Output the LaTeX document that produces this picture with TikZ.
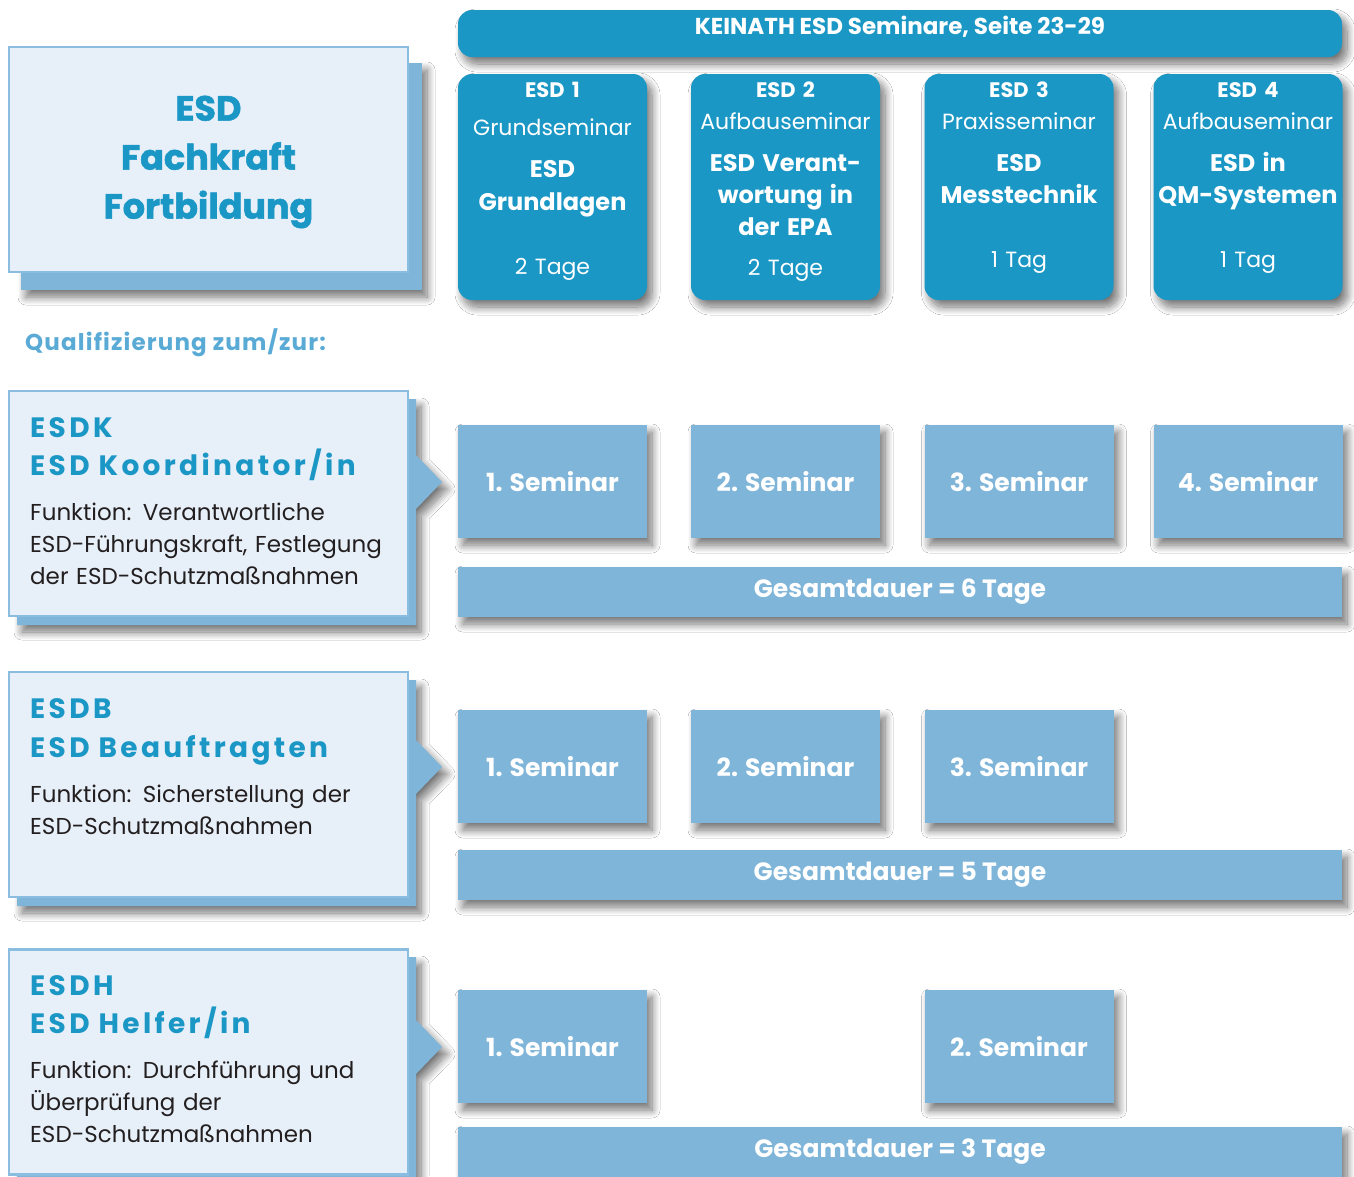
\documentclass[tikz,border=0pt]{standalone}
\usepackage{fontspec}
\setmainfont{Poppins}
\newfontfamily\rollenfamilie{Poppins}[LetterSpace=12]
\usetikzlibrary{shadows.blur}
\definecolor{esddunkel}{HTML}{1B97C6}
\definecolor{esdmittel}{HTML}{7FB5D9}
\definecolor{esdhell}{HTML}{E7EFF8}
\definecolor{esdrand}{HTML}{8ABDE0}
\definecolor{esdquali}{HTML}{5AAAD6}
\definecolor{esdschrift}{HTML}{231F20}
\newcommand{\rollenkopf}{\color{esddunkel}\rollenfamilie\fontsize{28}{32}\selectfont\bfseries}
\newcommand{\modulfett}{\fontsize{24}{32}\selectfont\bfseries}

\begin{document}
\begin{tikzpicture}[x=1pt,y=-1pt,
    schatten/.style={blur shadow={shadow xshift=5pt,shadow yshift=-7pt,shadow opacity=55,shadow blur steps=14,shadow blur radius=8pt}},
    kopf/.style={fill=esddunkel,rounded corners=14pt,minimum width=884pt,minimum height=47pt,schatten},
    modul/.style={fill=esddunkel,rounded corners=14pt,minimum width=189pt,minimum height=226pt,schatten},
    modultext/.style={text=white,align=center,anchor=north,inner sep=0pt,text width=189pt,font=\fontsize{22}{32}\selectfont},
    kurs/.style={fill=esdmittel,minimum width=189pt,minimum height=113pt,text=white,font=\fontsize{25}{29}\selectfont\bfseries,schatten},
    dauer/.style={fill=esdmittel,minimum width=884pt,minimum height=50pt,text=white,font=\fontsize{25}{29}\selectfont\bfseries,schatten},
    rolle/.style={fill=esdhell,draw=esdrand,line width=2.5pt,minimum width=399pt,minimum height=225pt},
    rollentext/.style={text=esdschrift,align=left,anchor=north west,inner sep=0pt,text width=410pt,font=\fontsize{23}{32}\selectfont}
  ]
  \useasboundingbox[fill=white] (0,0) rectangle (1354,1176);

  % Titelkasten
  \fill[esdmittel,schatten] (21,63) rectangle (422,290);
  \node[rolle] (fachkraft) at (208.5,159.5) {};
  \node[text=esddunkel,align=center,anchor=north,inner sep=0pt,font=\fontsize{35}{49}\selectfont\bfseries\addfontfeature{FakeBold=1.5}] (fachkrafttext) at (208.5,95.5)
    {ESD\\Fachkraft\\Fortbildung};

  % Seminare oben
  \node[kopf] (keinath) at (900,33.5) {};
  \node[text=white,font=\fontsize{23}{27}\selectfont\bfseries,inner sep=0pt] (keinathtext) at (900,27) {KEINATH ESD Seminare, Seite 23-29};
  \node[modul] (esd1) at (552.5,187) {};
  \node[modul] (esd2) at (785.5,187) {};
  \node[modul] (esd3) at (1019,187) {};
  \node[modul] (esd4) at (1248,187) {};
  \node[modultext] (esd1text) at (esd1.north |- 0,82)
    {{\fontsize{21}{32}\selectfont\bfseries ESD 1}\\[6pt]Grundseminar\\[10pt]
     {\modulfett ESD}\\[1pt]{\modulfett Grundlagen}\\[32pt]2 Tage};
  \node[modultext] (esd2text) at (esd2.north |- 0,82)
    {{\fontsize{21}{32}\selectfont\bfseries ESD 2}\\Aufbauseminar\\[10pt]
     {\modulfett ESD Verant-}\\{\modulfett wortung in}\\{\modulfett der EPA}\\[8pt]2 Tage};
  \node[modultext] (esd3text) at (esd3.north |- 0,82)
    {{\fontsize{21}{32}\selectfont\bfseries ESD 3}\\Praxisseminar\\[10pt]
     {\modulfett ESD}\\{\modulfett Messtechnik}\\[32pt]1 Tag};
  \node[modultext] (esd4text) at (esd4.north |- 0,82)
    {{\fontsize{21}{32}\selectfont\bfseries ESD 4}\\Aufbauseminar\\[10pt]
     {\modulfett ESD in}\\{\modulfett QM-Systemen}\\[32pt]1 Tag};

  \node[anchor=base west,inner sep=0pt,text=esdquali,font=\fontsize{23}{27}\selectfont\bfseries\addfontfeature{LetterSpace=5}] (quali) at (25,350) {Qualifizierung zum/zur:};

  % ESDK
  \fill[esdmittel,schatten] (17,399) -- (416,399) -- (416,455) -- (442,482) -- (416,509) -- (416,625) -- (17,625) -- cycle;
  \node[rolle] (esdk) at (208.5,503.5) {};
  \node[rollentext] (esdktext) at (30,417)
    {{\rollenkopf ESDK}\\[6pt]{\rollenkopf ESD\hspace{9pt}Koordinator/in}\\[13pt]
     Funktion: Verantwortliche\\ESD-Führungskraft, Festlegung\\der ESD-Schutzmaßnahmen};
  \node[kurs] (k1) at (552.5,481.5) {1. Seminar};
  \node[kurs] (k2) at (785.5,481.5) {2. Seminar};
  \node[kurs] (k3) at (1019,481.5) {3. Seminar};
  \node[kurs] (k4) at (1248,481.5) {4. Seminar};
  \node[dauer] (kdauer) at (900,592) {Gesamtdauer = 6 Tage};

  % ESDB
  \fill[esdmittel,schatten] (17,680) -- (416,680) -- (416,740) -- (442,767) -- (416,794) -- (416,906) -- (17,906) -- cycle;
  \node[rolle] (esdb) at (208.5,784.5) {};
  \node[rollentext] (esdbtext) at (30,698)
    {{\rollenkopf ESDB}\\[7pt]{\rollenkopf ESD\hspace{9pt}Beauftragten}\\[13pt]
     Funktion: Sicherstellung der\\ESD-Schutzmaßnahmen};
  \node[kurs] (b1) at (552.5,766.5) {1. Seminar};
  \node[kurs] (b2) at (785.5,766.5) {2. Seminar};
  \node[kurs] (b3) at (1019,766.5) {3. Seminar};
  \node[dauer] (bdauer) at (900,875) {Gesamtdauer = 5 Tage};

  % ESDH
  \fill[esdmittel,schatten] (17,957) -- (416,957) -- (416,1020) -- (442,1047) -- (416,1074) -- (416,1190) -- (17,1190) -- cycle;
  \node[rolle] (esdh) at (208.5,1062) {};
  \node[rollentext] (esdhtext) at (30,975)
    {{\rollenkopf ESDH}\\[6pt]{\rollenkopf ESD\hspace{9pt}Helfer/in}\\[13pt]
     Funktion: Durchführung und\\Überprüfung der\\ESD-Schutzmaßnahmen};
  \node[kurs] (h1) at (552.5,1046.5) {1. Seminar};
  \node[kurs] (h2) at (1019,1046.5) {2. Seminar};
  \node[dauer] (hdauer) at (900,1152) {Gesamtdauer = 3 Tage};
\end{tikzpicture}
\end{document}
